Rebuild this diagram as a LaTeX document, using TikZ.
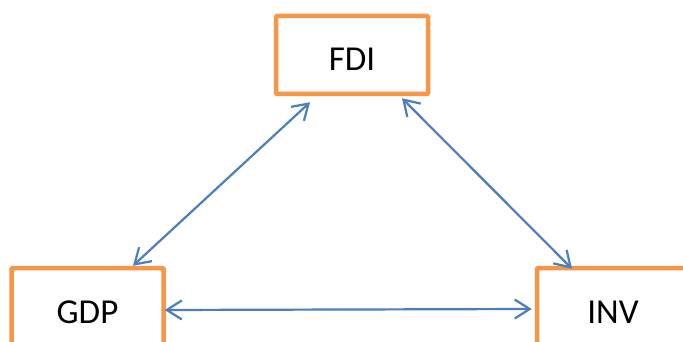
\documentclass[tikz,border=0pt]{standalone}
\usepackage{fontspec}
\setmainfont{Carlito}
\usetikzlibrary{arrows.meta}

\definecolor{boxorange}{RGB}{247,150,70}
\definecolor{linkblue}{RGB}{74,126,193}

\tikzset{
  varbox/.style={rectangle,draw=boxorange,line width=4.5pt,fill=white,
    rounded corners=1pt,
    minimum width=152pt,minimum height=78pt,inner sep=0pt,
    text height=32pt,text depth=0pt,font=\fontsize{35}{40}\selectfont},
  biarrow/.style={draw=linkblue,line width=2.2pt,
    {Straight Barb[length=15pt,width=19pt]}-{Straight Barb[length=15pt,width=19pt]}}
}

\begin{document}
\begin{tikzpicture}[x=1pt,y=-1pt]

          \useasboundingbox (0,0) rectangle (683,342);
          \clip (0,0) rectangle (683,342);

          \begin{scope}[every node/.style={varbox}]
            \node (fdi) at (352,55)   {FDI};
            \node (gdp) at (87.5,307) {GDP};
            \node (inv) at (613,307)  {INV};
          \end{scope}

          \begin{scope}[every edge/.style={biarrow}]
            \path ([xshift=45.5pt]gdp.north) edge ([xshift=-42pt,yshift=-6pt]fdi.south);
            \path ([xshift=50pt,yshift=-2pt]fdi.south) edge ([xshift=-41pt,yshift=-3pt]inv.north);
            \path ([xshift=-1pt,yshift=-3pt]gdp.east) edge ([xshift=-3pt,yshift=-2pt]inv.west);
          \end{scope}

        \end{tikzpicture}
\end{document}
